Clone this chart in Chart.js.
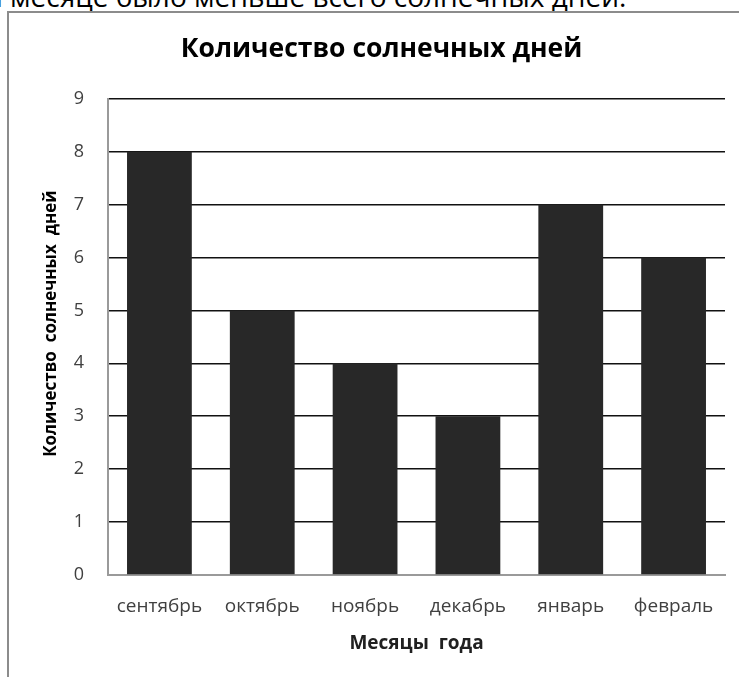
<html>
<head>
<meta charset="utf-8">
<style>
    body { margin: 0; overflow: hidden; background: #fff; font-family: "Open Sans", sans-serif; }
    #topline { position: absolute; left: 10px; top: -18px; font-size: 28px; line-height: 28px; color: #000; white-space: nowrap; }
    #topline .pre { position: absolute; right: 100%; top: 0; }
    #frame { position: absolute; left: 7px; top: 11px; width: 800px; height: 800px; border-left: 2px solid #8c8c8c; border-top: 2px solid #8c8c8c; }
    #wrap { position: absolute; left: 0; top: 0; width: 739px; height: 677px; }
</style>
</head>
<body>
<div id="topline"><span class="pre">й&nbsp;</span>месяце было меньше всего солнечных дней.</div>
<div id="frame"></div>
<div id="wrap">
    <canvas id="myChart" width="739" height="677"></canvas>
</div>

<script src="https://cdn.jsdelivr.net/npm/chart.js"></script>

<script>
    // данные диаграммы
    const months = ['сентябрь', 'октябрь', 'ноябрь', 'декабрь', 'январь', 'февраль'];
    const sunnyDays = [8, 5, 4, 3, 7, 6];
    const yTicks = [0, 1, 2, 3, 4, 5, 6, 7, 8, 9];

    const chartTitle = 'Количество солнечных дней';
    // неразрывные пробелы в начале сдвигают подпись оси чуть вверх, как в оригинале
    const yTitle = '\u00A0\u00A0\u00A0\u00A0\u00A0\u00A0Количество  солнечных  дней';
    const xTitle = 'Месяцы  года';

    const ctx = document.getElementById('myChart');
    const chart = new Chart(ctx, {
        type: 'bar',
        data: {
            labels: months,
            datasets: [{
                label: chartTitle,
                data: sunnyDays,
                backgroundColor: '#282828',
                borderWidth: 0,
                categoryPercentage: 1.0,
                barPercentage: 0.63,
            }]
        },
        options: {
            responsive: false,
            animation: false,
            layout: { padding: { left: 38, right: 14, top: 0, bottom: 0 } },
            plugins: {
                legend: { display: false },
                tooltip: { enabled: false },
                title: {
                    display: true,
                    text: chartTitle,
                    color: '#000',
                    font: { family: 'Open Sans', size: 26.5, weight: 'bold' },
                    padding: { top: 34, bottom: 33 },
                }
            },
            scales: {
                x: {
                    afterFit: function (scale) { scale.height = 102; },
                    grid: { display: false, drawTicks: false },
                    border: { display: true, color: '#9a9a9a', width: 2 },
                    ticks: {
                        color: '#404040',
                        padding: 20,
                        font: { family: 'Open Sans', size: 19 },
                    },
                    title: {
                        display: true,
                        text: xTitle,
                        color: '#202020',
                        font: { family: 'Open Sans', size: 19, weight: 'bold' },
                        padding: { top: 0, bottom: 22 },
                    }
                },
                y: {
                    min: 0,
                    max: 9,
                    afterFit: function (scale) { scale.width = 70; },
                    afterBuildTicks: function (scale) {
                        scale.ticks = yTicks.map(v => ({ value: v }));
                    },
                    grid: {
                        drawTicks: false,
                        color: function (c) { return c.tick && c.tick.value === 0 ? 'rgba(0,0,0,0)' : '#111'; },
                        lineWidth: 1.6,
                    },
                    border: { display: true, color: '#9a9a9a', width: 2 },
                    ticks: {
                        color: '#404040',
                        padding: 24,
                        font: { family: 'Open Sans', size: 18 },
                    },
                    title: {
                        display: true,
                        text: yTitle,
                        color: '#000',
                        font: { family: 'Open Sans', size: 17, weight: 'bold' },
                        padding: { top: 3, bottom: 0 },
                    }
                }
            }
        }
    });
</script>
</body>
</html>
